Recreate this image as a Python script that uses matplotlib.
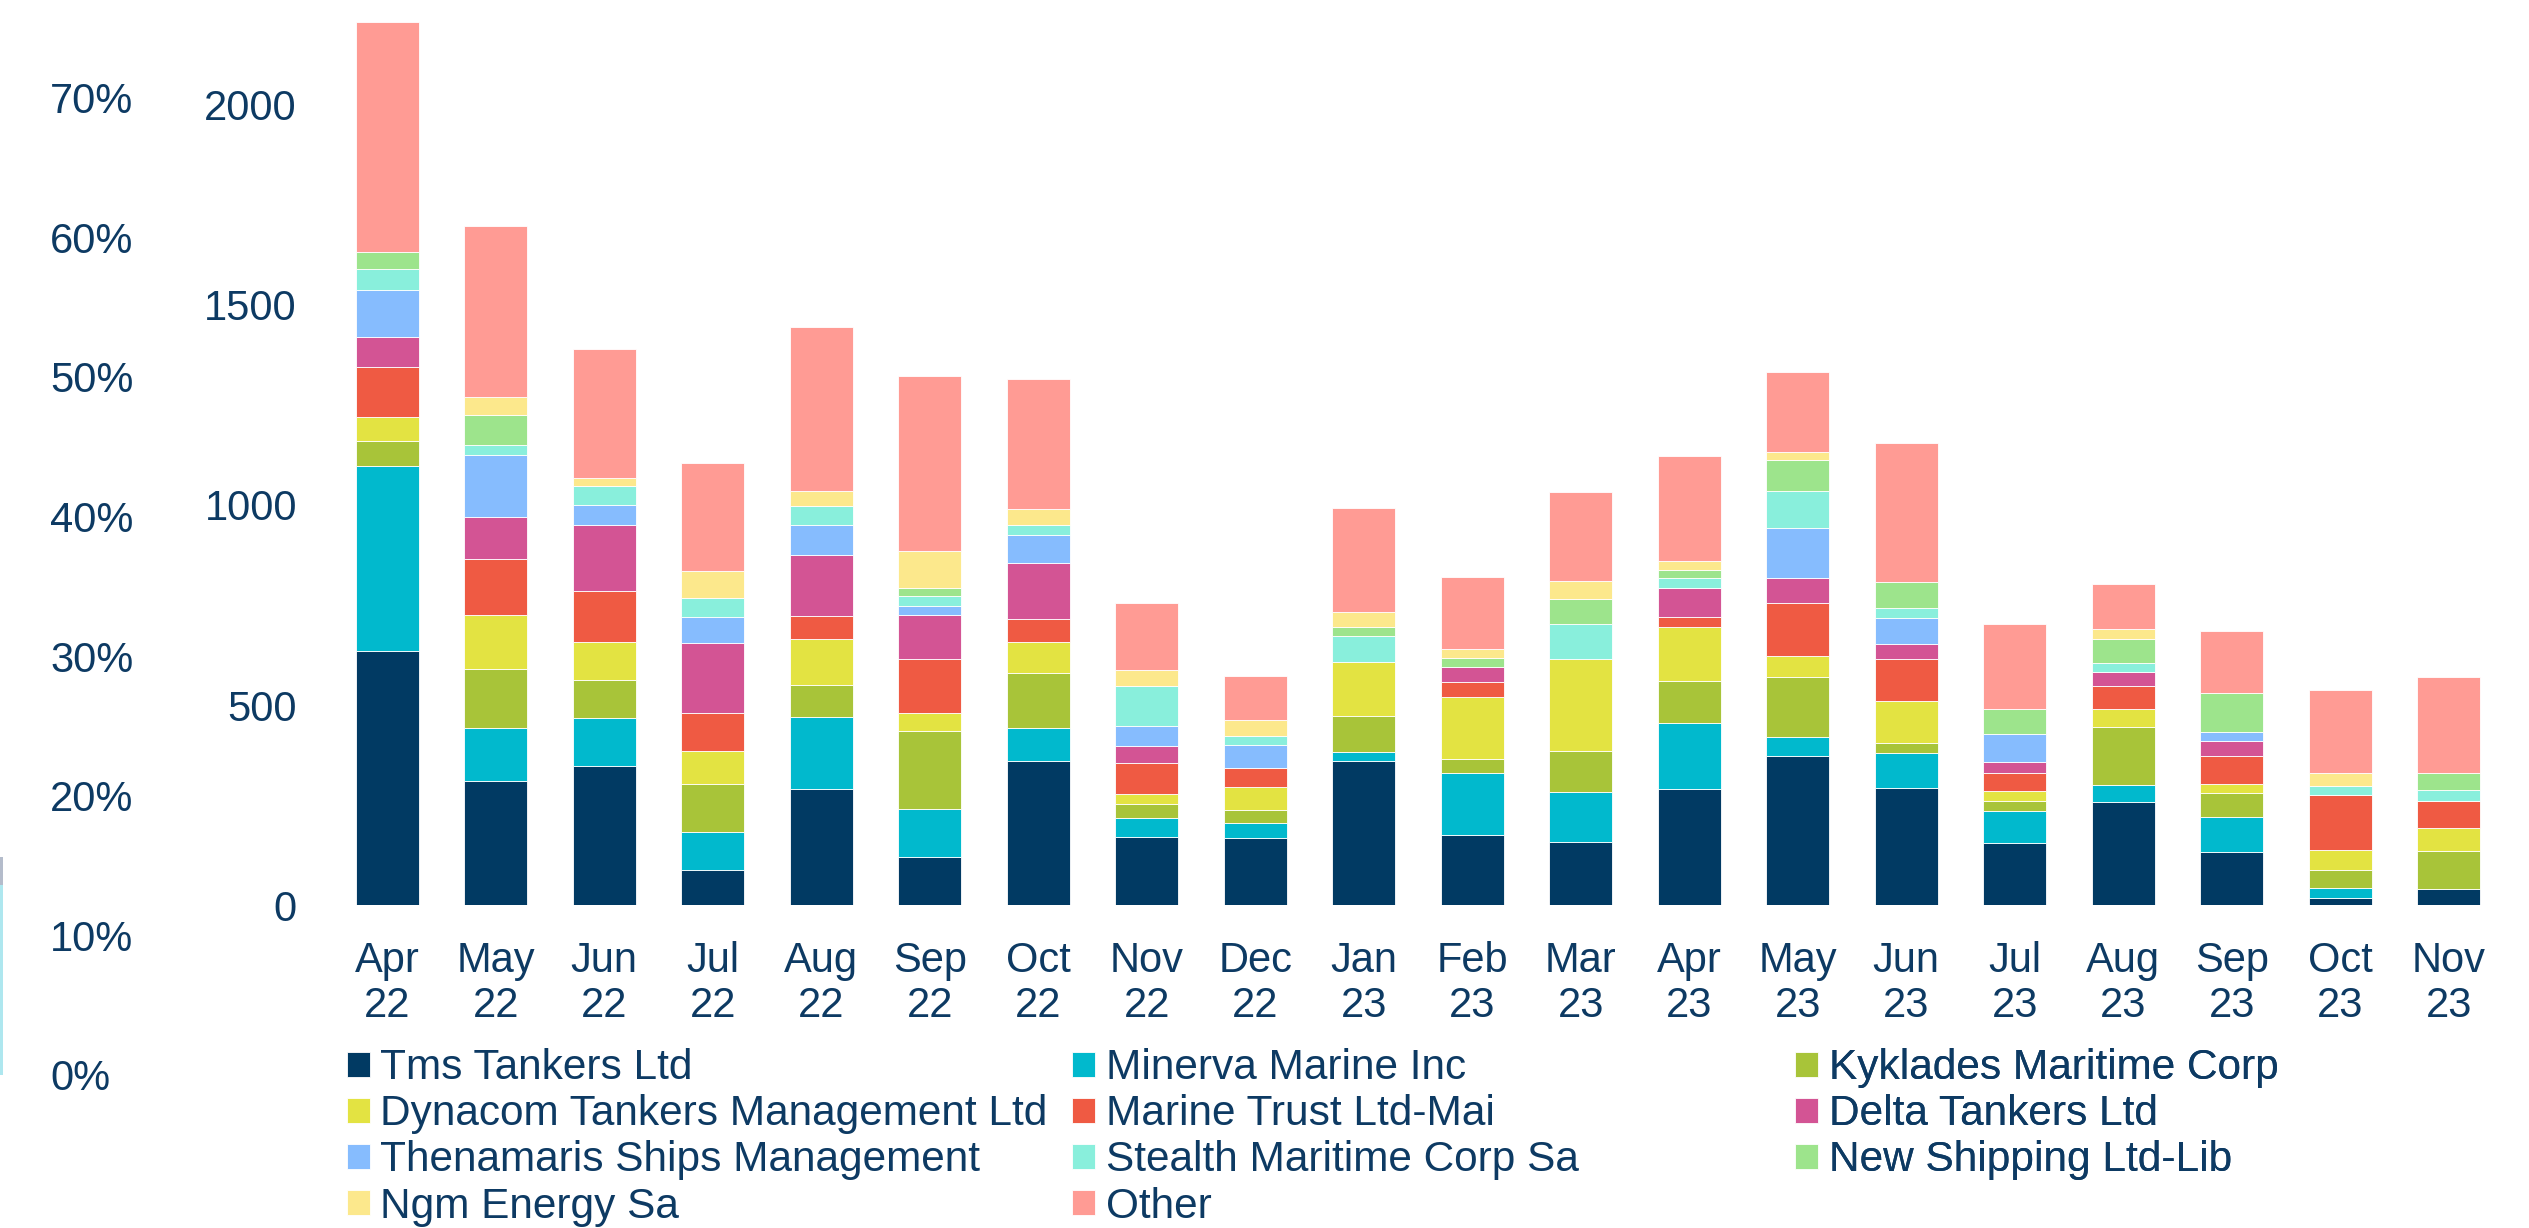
import matplotlib
matplotlib.use('Agg')
import matplotlib.pyplot as plt
import numpy as np

plt.rcParams['font.family'] = ['Liberation Sans', 'DejaVu Sans']

months = ['Apr\n22', 'May\n22', 'Jun\n22', 'Jul\n22', 'Aug\n22', 'Sep\n22', 'Oct\n22',
          'Nov\n22', 'Dec\n22', 'Jan\n23', 'Feb\n23', 'Mar\n23', 'Apr\n23', 'May\n23',
          'Jun\n23', 'Jul\n23', 'Aug\n23', 'Sep\n23', 'Oct\n23', 'Nov\n23']

## valores por empresa
tms = [635, 311, 347, 88, 289, 120, 359, 169, 168, 361, 174, 158, 289, 373, 293, 155, 258, 132, 18, 40]
minerva = [462, 132, 121, 94, 180, 120, 83, 48, 37, 22, 156, 125, 165, 46, 88, 81, 42, 88, 24, 0]
kyklades = [62, 147, 95, 120, 80, 195, 139, 36, 32, 90, 36, 103, 107, 150, 25, 23, 144, 60, 45, 95]
dynacom = [61, 136, 95, 83, 115, 45, 77, 24, 57, 135, 153, 228, 135, 53, 105, 27, 45, 23, 50, 57]
marine_trust = [124, 138, 126, 95, 59, 136, 58, 79, 49, 0, 38, 0, 25, 134, 105, 44, 58, 69, 137, 69]
delta = [76, 106, 167, 174, 153, 108, 139, 42, 0, 0, 38, 0, 72, 62, 37, 27, 35, 37, 0, 0]
thenamaris = [117, 155, 48, 65, 73, 24, 71, 50, 57, 0, 0, 0, 0, 124, 65, 71, 0, 23, 0, 0]
stealth = [53, 26, 48, 48, 48, 24, 24, 100, 23, 64, 0, 88, 24, 93, 24, 0, 22, 0, 23, 26]
new_shipping = [42, 73, 0, 0, 0, 21, 0, 0, 0, 22, 23, 64, 21, 77, 65, 62, 60, 97, 0, 42]
ngm = [0, 47, 20, 67, 39, 91, 39, 40, 39, 39, 22, 45, 22, 21, 0, 0, 25, 0, 33, 0]
other = [576, 426, 324, 270, 408, 439, 327, 168, 110, 260, 180, 222, 262, 200, 347, 212, 114, 157, 207, 241]

names = ['Tms Tankers Ltd', 'Minerva Marine Inc', 'Kyklades Maritime Corp',
         'Dynacom Tankers Management Ltd', 'Marine Trust Ltd-Mai', 'Delta Tankers Ltd',
         'Thenamaris Ships Management', 'Stealth Maritime Corp Sa', 'New Shipping Ltd-Lib',
         'Ngm Energy Sa', 'Other']
series = [tms, minerva, kyklades, dynacom, marine_trust, delta, thenamaris,
          stealth, new_shipping, ngm, other]
colors = ['#013a63', '#01b9cd', '#a8c439', '#e3e342', '#ef5a43', '#d35494',
          '#86bcfe', '#89efdc', '#9de48c', '#fce88c', '#ff9b94']

pct_ticks = [0, 10, 20, 30, 40, 50, 60, 70]

text_color = '#0d3a63'

fig = plt.figure(figsize=(25.29, 12.28), dpi=100)

## eixo principal com as barras empilhadas
ax = fig.add_axes([0.1317, 0.263, 0.858, 0.733])
x = np.arange(len(months))
bottom = np.zeros(len(months))
handles = []
for vals, nome, cor in zip(series, names, colors):
    b = ax.bar(x, vals, width=0.58, bottom=bottom, color=cor, label=nome,
               edgecolor='white', linewidth=0.6)
    handles.append(b)
    bottom += np.array(vals)

ax.set_xlim(-0.5, len(months) - 0.5)
ax.set_ylim(0, 2250)
ax.set_yticks([0, 500, 1000, 1500, 2000])
ax.set_xticks(x)
ax.set_xticklabels(months, linespacing=1.17)
ax.tick_params(axis='y', length=0, pad=26, labelsize=30, labelcolor=text_color)
ax.tick_params(axis='x', length=0, pad=26, labelsize=30, labelcolor=text_color)
for s in ax.spines.values():
    s.set_visible(False)

## eixo de percentagem a esquerda (so rotulos)
ax_pct = fig.add_axes([0.0198, 0.1246, 0.0001, 0.8526])
ax_pct.set_ylim(0, 75)
ax_pct.set_yticks(pct_ticks)
ax_pct.set_yticklabels([f'{p}%' for p in pct_ticks])
ax_pct.yaxis.tick_right()
ax_pct.tick_params(axis='y', length=0, pad=0, labelsize=30, labelcolor=text_color)
ax_pct.set_xticks([])
for s in ax_pct.spines.values():
    s.set_visible(False)

## pedaco de barra cortado na borda esquerda
ax_edge = fig.add_axes([0, 0.1246, 0.001, 0.8526])
ax_edge.set_ylim(0, 75)
ax_edge.set_xlim(-0.5, 0.5)
ax_edge.bar([0], [13.6], width=1, color='#aee7ef')
ax_edge.bar([0], [2.0], width=1, bottom=[13.6], color='#b4bccb')
ax_edge.axis('off')

## legenda em 3 colunas de largura fixa
cols = [[0, 3, 6, 9], [1, 4, 7, 10], [2, 5, 8]]
col_x = [0.1372, 0.4239, 0.7098]
for cx, idx in zip(col_x, cols):
    leg = ax.legend([handles[i] for i in idx], [names[i] for i in idx],
                    loc='upper left', bbox_to_anchor=(cx, 0.1465),
                    bbox_transform=fig.transFigure, frameon=False, fontsize=30.5,
                    handlelength=0.55, handleheight=0.53, handletextpad=0.24,
                    labelspacing=0.145, borderpad=0, borderaxespad=0)
    for t in leg.get_texts():
        t.set_color(text_color)
    ax.add_artist(leg)

fig.savefig('out.png', dpi=100)
